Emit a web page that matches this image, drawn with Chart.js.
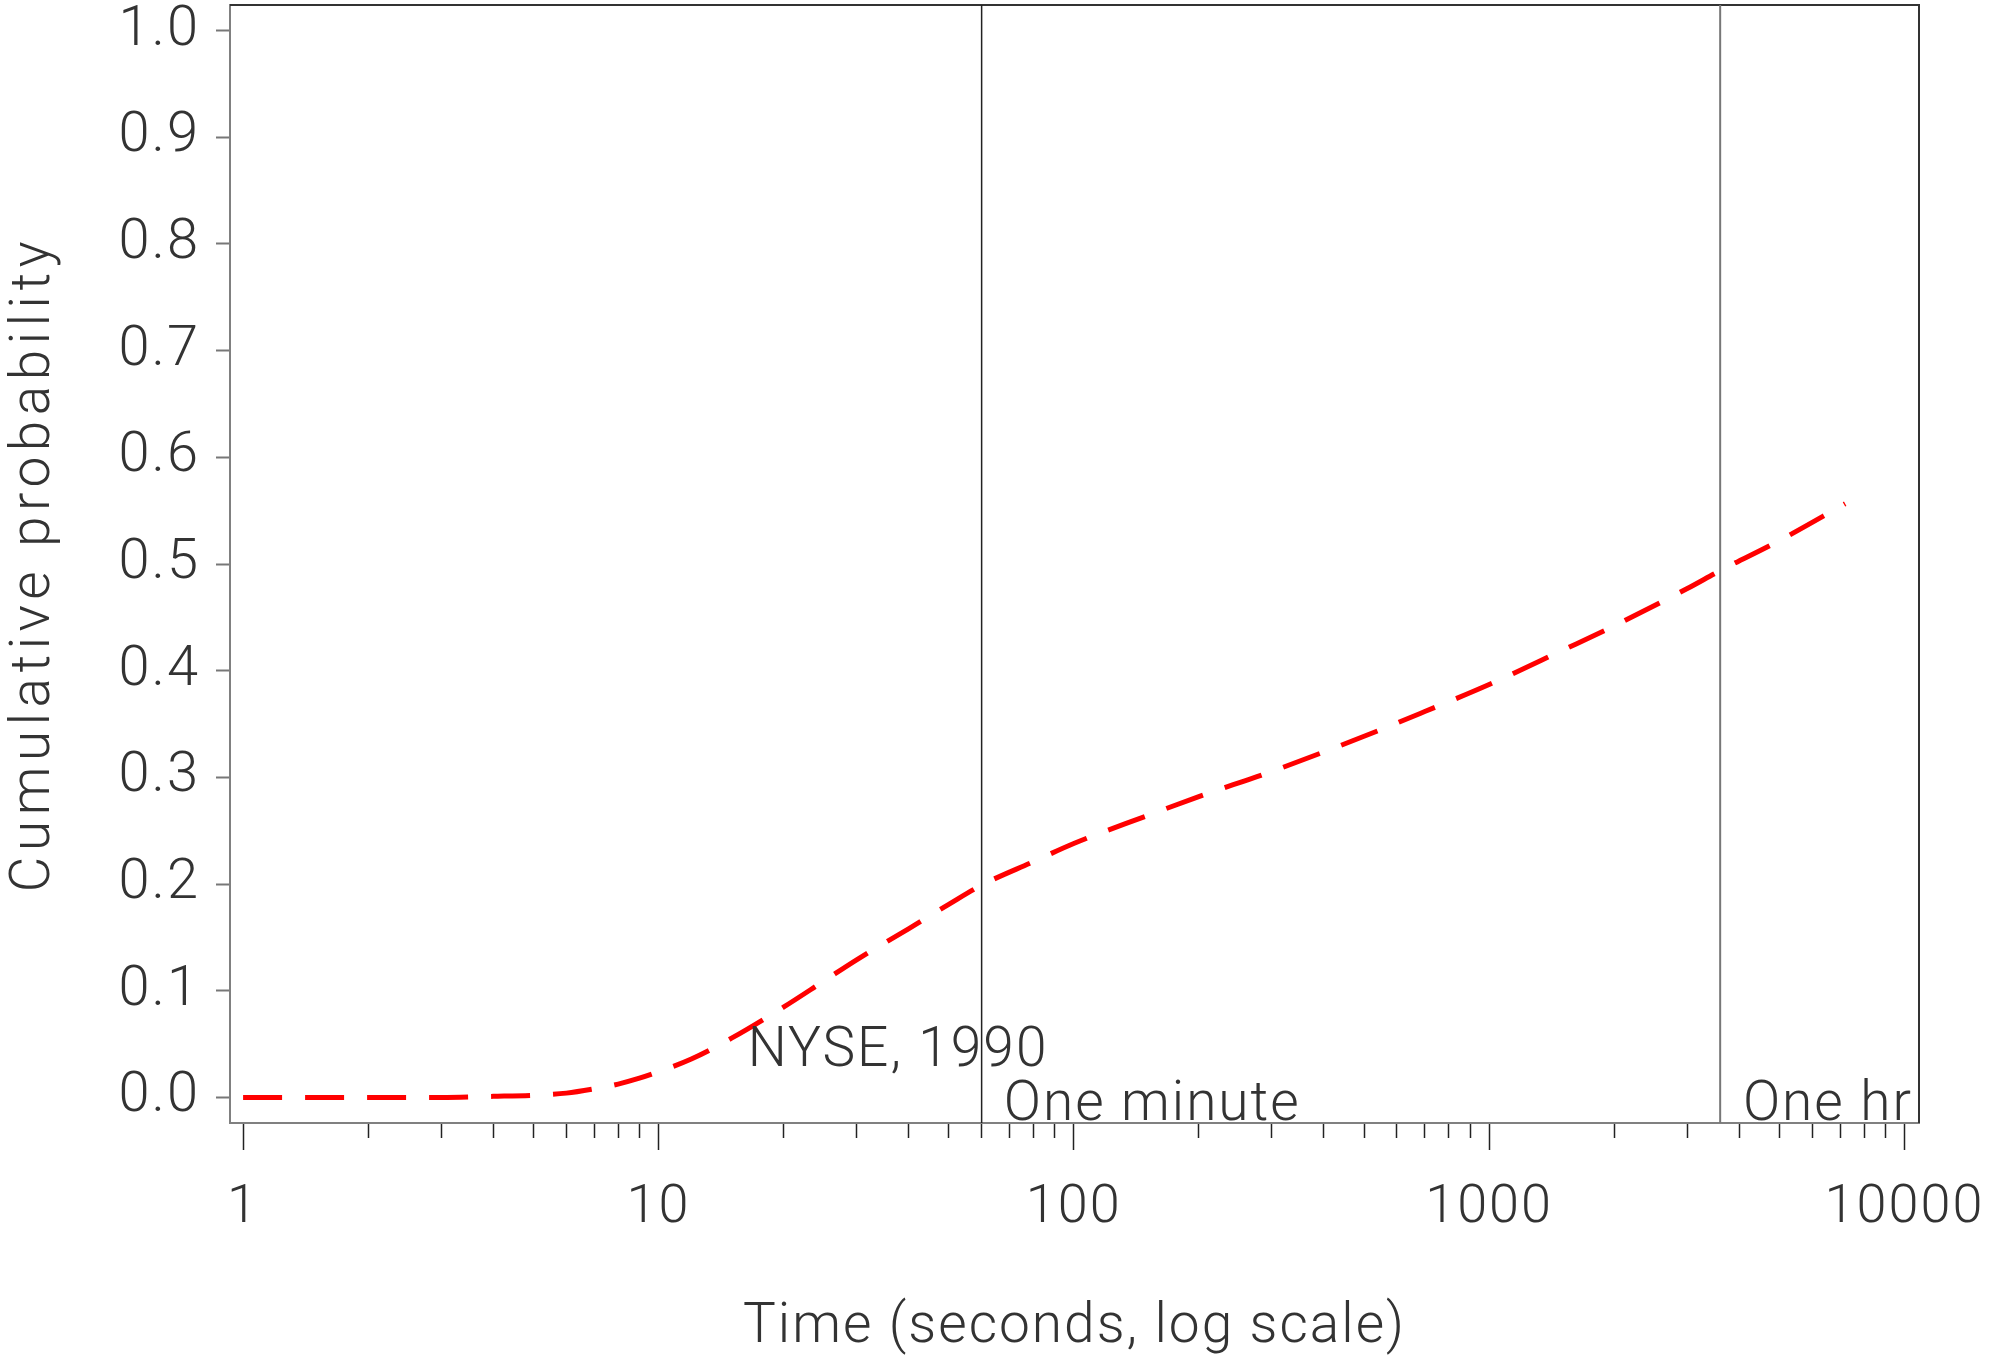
<!DOCTYPE html>
<html>
<head>
<meta charset="utf-8">
<title>Cumulative probability</title>
<script src="https://cdn.jsdelivr.net/npm/chart.js@4.4.1/dist/chart.umd.min.js"></script>
<style>
  html, body { margin: 0; padding: 0; background: #fff; }
  #chart { display: block; }
</style>
</head>
<body>
<canvas id="chart" width="2005" height="1356"></canvas>
<script>
// values
var times = [1, 2, 3, 4, 5, 6, 7, 8, 9, 10, 12, 15, 20, 25, 30, 40, 50, 60, 80, 100,
  150, 200, 300, 500, 700, 1000, 1500, 2000, 3000, 3600, 5000, 7200];
var probs = [0, 0, 0, 0.001, 0.002, 0.004, 0.008, 0.0125, 0.018, 0.024, 0.036, 0.0555, 0.0846, 0.109, 0.129, 0.158, 0.181, 0.199, 0.221, 0.238,
  0.264, 0.282, 0.3056, 0.3385, 0.3617, 0.387, 0.419, 0.442, 0.477, 0.4938, 0.522, 0.5565];

var markerTimes = [60, 3600];
var yTicks = [0, 0.1, 0.2, 0.3, 0.4, 0.5, 0.6, 0.7, 0.8, 0.9, 1.0];
var xMajorTicks = [1, 10, 100, 1000, 10000];

var notes = ['NYSE, 1990', 'One minute', 'One hr'];
var noteX = [16.4, 67.8, 4083];
var noteY = [0.029, -0.021, -0.021];

(function(){
  'use strict';

  var FONT = 'Roboto, "Liberation Sans", sans-serif';
  var TEXT = '#333';
  var SPACING = '2px';
  var yMin = -0.024, yMax = 1.024;

  function minorTicks() {
    var out = [];
    for (var i = 0; i < xMajorTicks.length; i++) {
      out.push({ value: xMajorTicks[i], major: true });
      if (i < xMajorTicks.length - 1) {
        for (var m = 2; m <= 9; m++) {
          out.push({ value: xMajorTicks[i] * m, major: false });
        }
      }
    }
    return out;
  }

  // the plotting font spaces its letters wider than Roboto
  var spacingPlugin = {
    id: 'spacing',
    beforeInit: function(chart) { chart.ctx.letterSpacing = SPACING; },
    beforeLayout: function(chart) { chart.ctx.letterSpacing = SPACING; },
    beforeDraw: function(chart) { chart.ctx.letterSpacing = SPACING; }
  };

  // y title has many narrow letters, which the original spreads out more
  function widenTitle(scale, spacing) {
    if (scale._wideTitle) return;
    scale._wideTitle = true;
    var orig = scale.drawTitle;
    scale.drawTitle = function() {
      var c = this.ctx;
      c.letterSpacing = spacing;
      orig.apply(this, arguments);
      c.letterSpacing = SPACING;
    };
  }

  var framePlugin = {
    id: 'frame',
    beforeDatasetsDraw: function(chart) {
      var a = chart.chartArea, c = chart.ctx;
      c.save();
      c.strokeStyle = '#333';
      c.lineWidth = 2;
      c.beginPath();
      c.moveTo(a.left, a.top);
      c.lineTo(a.right, a.top);
      c.lineTo(a.right, a.bottom);
      c.stroke();
      c.restore();
    }
  };

  var notesPlugin = {
    id: 'notes',
    afterDatasetsDraw: function(chart) {
      var c = chart.ctx, xs = chart.scales.x, ys = chart.scales.y;
      c.save();
      c.font = '300 55px ' + FONT;
      c.fillStyle = TEXT;
      c.textAlign = 'left';
      c.textBaseline = 'alphabetic';
      for (var i = 0; i < notes.length; i++) {
        c.fillText(notes[i], xs.getPixelForValue(noteX[i]), ys.getPixelForValue(noteY[i]));
      }
      c.restore();
    }
  };

  var curve = times.map(function(t, i) { return { x: t, y: probs[i] }; });

  var datasets = [{
    data: curve,
    borderColor: '#ff0000',
    borderWidth: 5,
    borderDash: [39, 23],
    cubicInterpolationMode: 'monotone',
    pointRadius: 0,
    fill: false
  }];

  markerTimes.forEach(function(t, i) {
    datasets.push({
      data: [{ x: t, y: yMin }, { x: t, y: yMax }],
      borderColor: i === 0 ? '#222' : '#777',
      borderWidth: i === 0 ? 1.5 : 2,
      pointRadius: 0,
      fill: false
    });
  });

  new Chart(document.getElementById('chart'), {
    type: 'line',
    data: { datasets: datasets },
    plugins: [spacingPlugin, framePlugin, notesPlugin],
    options: {
      responsive: false,
      animation: false,
      layout: { padding: { top: 5, right: 86, left: 0, bottom: 0 } },
      plugins: { legend: { display: false }, tooltip: { enabled: false } },
      scales: {
        x: {
          type: 'logarithmic',
          min: 0.93,
          max: 10840,
          afterBuildTicks: function(scale) { scale.ticks = minorTicks(); },
          afterFit: function(scale) {
            scale.height = 233;
            scale.paddingLeft = 0; scale.paddingRight = 0;
          },
          border: { color: '#808080', width: 2 },
          grid: {
            drawOnChartArea: false,
            tickLength: 27,
            tickColor: '#222',
            tickWidth: 1.5,
            tickBorderDash: function(ctx) { return ctx.tick && ctx.tick.major ? [] : [14, 200]; }
          },
          ticks: {
            autoSkip: false,
            maxRotation: 0,
            padding: 26,
            color: TEXT,
            font: { family: FONT, size: 54, weight: 300 },
            callback: function(v) { return xMajorTicks.indexOf(v) >= 0 ? String(v) : ''; }
          },
          title: {
            display: true,
            text: 'Time (seconds, log scale)',
            color: TEXT,
            font: { family: FONT, size: 55, weight: 300, lineHeight: 1.0 },
            padding: { top: 0, bottom: 0 }
          }
        },
        y: {
          min: yMin,
          max: yMax,
          afterBuildTicks: function(scale) {
            scale.ticks = yTicks.map(function(v) { return { value: v }; });
          },
          afterFit: function(scale) {
            scale.width = 230;
            scale.paddingTop = 0; scale.paddingBottom = 0;
            widenTitle(scale, '5.5px');
          },
          border: { color: '#808080', width: 2 },
          grid: { drawOnChartArea: false, tickLength: 14, tickColor: '#777', tickWidth: 2 },
          ticks: {
            padding: 16,
            color: TEXT,
            font: { family: FONT, size: 56, weight: 300 },
            callback: function(v) { return v.toFixed(1); }
          },
          title: {
            display: true,
            text: 'Cumulative probability',
            color: TEXT,
            font: { family: FONT, size: 55, weight: 300 },
            padding: { top: 2, bottom: 0 }
          }
        }
      }
    }
  });

}());
</script>
</body>
</html>
